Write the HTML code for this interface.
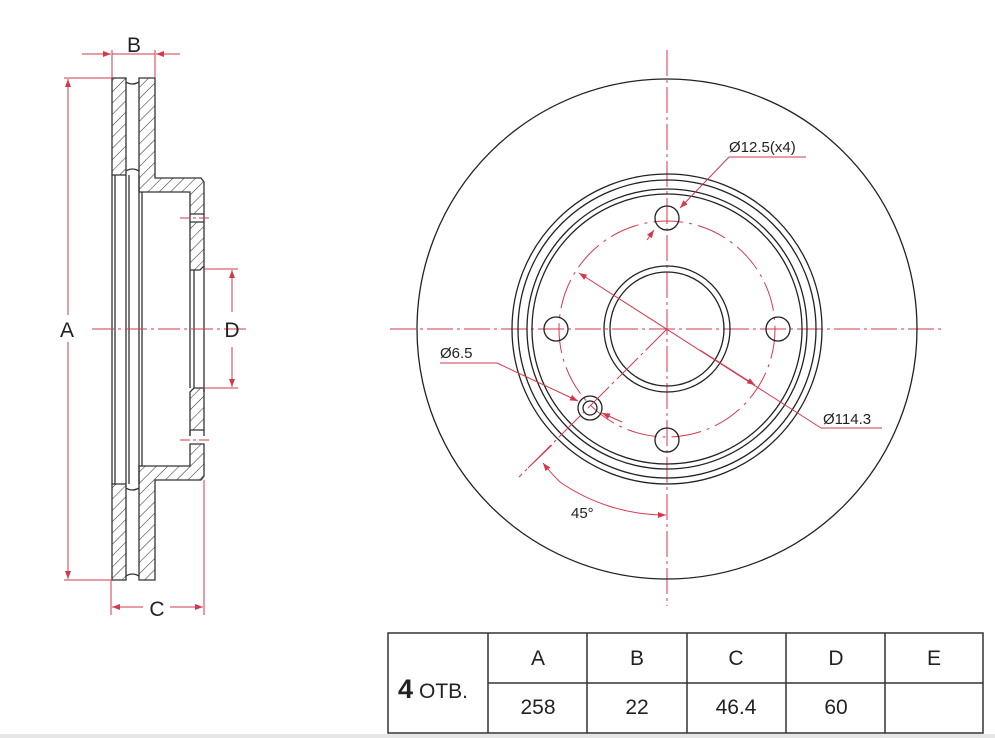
<!DOCTYPE html>
<html><head><meta charset="utf-8"><style>
body{margin:0;background:#fff;}
svg{display:block;}
text{font-family:"Liberation Sans",Arial,sans-serif;}
</style></head><body>
<svg width="995" height="738" viewBox="0 0 995 738" xmlns="http://www.w3.org/2000/svg">
<defs>
<pattern id="h" patternUnits="userSpaceOnUse" width="8" height="8" patternTransform="rotate(45)">
<rect width="8" height="8" fill="#fff"/><line x1="0" y1="0" x2="0" y2="8" stroke="#333" stroke-width="1.1"/>
</pattern>
<marker id="a" markerWidth="8" markerHeight="6" refX="8" refY="3" orient="auto" markerUnits="userSpaceOnUse"><path d="M0,0 L8,3 L0,6z" fill="#d23a4c"/></marker>
</defs>
<rect width="995" height="738" fill="#fff"/>
<rect x="0" y="734" width="995" height="4" fill="#e6e6e6"/>

<!-- SIDE VIEW -->
<g stroke="#333" stroke-width="1.3" fill="none">
<path d="M112,78 H126 V175 H112 Z" fill="url(#h)"/>
<path d="M139,78 H155 V178 H201 L204,182 V214 H190 V192 H139 Z" fill="url(#h)"/>
<path d="M190,222 H204 V266 L200,270 H190 Z" fill="url(#h)"/>
<path d="M112,484 H126 V580 H112 Z" fill="url(#h)"/>
<path d="M139,466 H190 V444 H204 V476 L201,480 H155 V580 H139 Z" fill="url(#h)"/>
<path d="M190,436 V392 L194,388 H204 V430 H190 Z" fill="url(#h)"/>
<path d="M126,82 Q132,86 139,82 M126,171 Q132,167 139,171 M126,488 Q132,492 139,488 M126,576 Q132,572 139,576"/>
<line x1="112" y1="175" x2="112" y2="484"/><line x1="115" y1="175" x2="115" y2="484"/>
<line x1="126" y1="175" x2="126" y2="484"/><line x1="129" y1="175" x2="129" y2="484"/>
<line x1="139" y1="175" x2="139" y2="484"/><line x1="142" y1="192" x2="142" y2="466"/>
<line x1="190" y1="270" x2="190" y2="388"/><line x1="194" y1="270" x2="194" y2="388"/>
<line x1="204" y1="266" x2="204" y2="392"/>
<line x1="190" y1="214" x2="190" y2="222"/><line x1="204" y1="214" x2="204" y2="222"/>
<line x1="190" y1="430" x2="190" y2="436"/><line x1="204" y1="430" x2="204" y2="436"/>
</g>
<g stroke="#d23a4c" stroke-width="1" fill="none">
<line x1="112" y1="50" x2="112" y2="78"/><line x1="155" y1="50" x2="155" y2="78"/>
<line x1="82" y1="54" x2="111" y2="54" marker-end="url(#a)"/><line x1="180" y1="54" x2="156" y2="54" marker-end="url(#a)"/>
<line x1="112" y1="54" x2="155" y2="54"/>
<line x1="64" y1="78" x2="112" y2="78"/><line x1="64" y1="580" x2="112" y2="580"/>
<line x1="68" y1="315" x2="68" y2="79" marker-end="url(#a)"/><line x1="68" y1="342" x2="68" y2="579" marker-end="url(#a)"/>
<line x1="204" y1="269" x2="238" y2="269"/><line x1="204" y1="388" x2="238" y2="388"/>
<line x1="232" y1="312" x2="232" y2="270" marker-end="url(#a)"/><line x1="232" y1="347" x2="232" y2="387" marker-end="url(#a)"/>
<line x1="111" y1="580" x2="111" y2="615"/><line x1="204" y1="480" x2="204" y2="615"/>
<line x1="143" y1="607" x2="112" y2="607" marker-end="url(#a)"/><line x1="170" y1="607" x2="203" y2="607" marker-end="url(#a)"/>
<line x1="92" y1="329" x2="250" y2="329" stroke-dasharray="22,4,3,4"/>
<line x1="180" y1="218" x2="212" y2="218" stroke-dasharray="10,3,3,3"/>
<line x1="180" y1="440" x2="212" y2="440" stroke-dasharray="10,3,3,3"/>
</g>
<g font-size="21" fill="#222" text-anchor="middle">
<text x="134" y="52">B</text><text x="67" y="337">A</text><text x="232" y="337">D</text><text x="157" y="616">C</text>
</g>

<!-- FRONT VIEW -->
<g stroke="#d23a4c" stroke-width="1" fill="none">
<line x1="667" y1="50" x2="667" y2="606" stroke-dasharray="26,4,3,4"/>
<line x1="390" y1="329" x2="945" y2="329" stroke-dasharray="26,4,3,4"/>
<circle cx="667" cy="329" r="108" stroke-dasharray="30,6,3,6"/>
</g>
<g stroke="#222" stroke-width="1.3" fill="none">
<circle cx="667" cy="329" r="250"/>
<circle cx="667" cy="329" r="155"/>
<circle cx="667" cy="329" r="149"/>
<circle cx="667" cy="329" r="140"/>
<circle cx="667" cy="329" r="135"/>
<circle cx="667" cy="329" r="63"/>
<circle cx="667" cy="329" r="57"/>
<circle cx="667" cy="218" r="12"/>
<circle cx="667" cy="440" r="12"/>
<circle cx="556" cy="329" r="12"/>
<circle cx="778" cy="329" r="12"/>
<circle cx="590" cy="408" r="12"/>
<circle cx="590" cy="408" r="7"/>
</g>
<g stroke="#d23a4c" stroke-width="1" fill="none">
<line x1="667" y1="329" x2="519" y2="477" stroke-dasharray="30,4,3,4"/>
<line x1="528" y1="468" x2="552" y2="445"/>
<line x1="821" y1="428" x2="579" y2="273" marker-end="url(#a)"/>
<line x1="821" y1="428" x2="882" y2="428"/>
<line x1="700" y1="350" x2="755" y2="385" marker-end="url(#a)"/>
<line x1="806" y1="157" x2="729" y2="157"/>
<line x1="729" y1="157" x2="680" y2="208" marker-end="url(#a)"/>
<line x1="647" y1="240" x2="654" y2="230" marker-end="url(#a)"/>
<line x1="440" y1="363" x2="497" y2="363"/>
<line x1="497" y1="363" x2="578" y2="401" marker-end="url(#a)"/>
<line x1="622" y1="422" x2="602" y2="413" marker-end="url(#a)"/>
<path d="M560,482 A186,186 0 0 0 666,515" marker-end="url(#a)"/>
<path d="M560,482 A186,186 0 0 1 543,463" marker-end="url(#a)"/>
</g>
<g font-size="15" fill="#222">
<text x="729" y="152">Ø12.5(x4)</text>
<text x="440" y="358">Ø6.5</text>
<text x="823" y="424">Ø114.3</text>
<text x="571" y="518">45°</text>
</g>

<!-- TABLE -->
<g stroke="#333" stroke-width="1.5" fill="none">
<rect x="388" y="633" width="595" height="100"/>
<line x1="488" y1="683" x2="983" y2="683"/>
<line x1="488" y1="633" x2="488" y2="733"/>
<line x1="587" y1="633" x2="587" y2="733"/>
<line x1="687" y1="633" x2="687" y2="733"/>
<line x1="786" y1="633" x2="786" y2="733"/>
<line x1="885" y1="633" x2="885" y2="733"/>
</g>
<g font-size="21" fill="#222" text-anchor="middle">
<text x="538" y="665">A</text><text x="637" y="665">B</text><text x="736" y="665">C</text><text x="836" y="665">D</text><text x="934" y="665">E</text>
<text x="538" y="714">258</text><text x="637" y="714">22</text><text x="736" y="714">46.4</text><text x="836" y="714">60</text>
</g>
<text x="398" y="698" font-size="27" font-weight="bold" fill="#222">4</text>
<text x="419" y="698" font-size="21" fill="#222">ОТВ.</text>
</svg>
</body></html>
